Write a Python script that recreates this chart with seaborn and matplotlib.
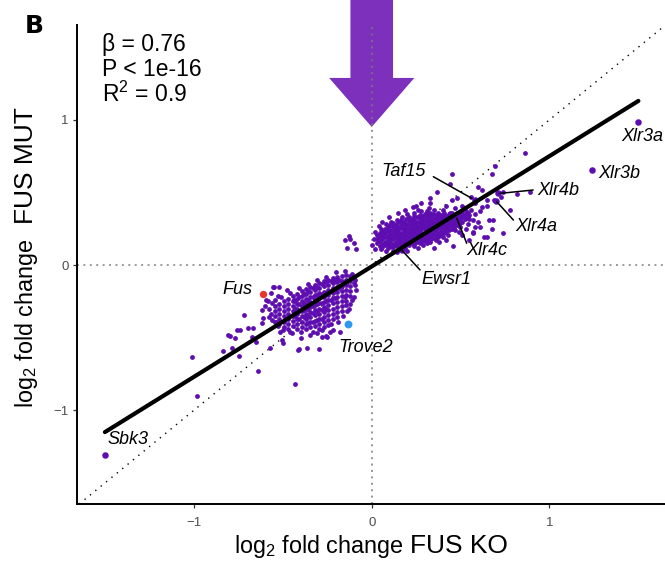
import numpy as np
import pandas as pd
import matplotlib
matplotlib.use("Agg")
import matplotlib.pyplot as plt
import seaborn as sns
from matplotlib.patches import Polygon

# ---------------- data (log2 fold change: FUS KO vs FUS MUT) ----------------
# dense upregulated cluster, columns x -> list of y
pos_core_cols = {
    0.030: [0.150, 0.178, 0.207],
    0.045: [0.132, 0.163, 0.192, 0.221],
    0.060: [0.122, 0.148, 0.176, 0.205, 0.236],
    0.075: [0.135, 0.162, 0.190, 0.219, 0.248],
    0.090: [0.118, 0.146, 0.174, 0.203, 0.232, 0.262],
    0.105: [0.130, 0.158, 0.187, 0.215, 0.244, 0.273],
    0.120: [0.121, 0.148, 0.176, 0.205, 0.233, 0.262, 0.290],
    0.135: [0.135, 0.162, 0.190, 0.219, 0.247, 0.276],
    0.150: [0.127, 0.153, 0.181, 0.209, 0.237, 0.265, 0.294],
    0.165: [0.140, 0.168, 0.196, 0.224, 0.252, 0.281, 0.309],
    0.180: [0.132, 0.158, 0.186, 0.214, 0.242, 0.270, 0.298],
    0.195: [0.146, 0.174, 0.202, 0.230, 0.258, 0.286, 0.315],
    0.210: [0.139, 0.165, 0.193, 0.221, 0.249, 0.277, 0.305, 0.330],
    0.225: [0.152, 0.180, 0.208, 0.236, 0.264, 0.292, 0.320],
    0.240: [0.146, 0.172, 0.200, 0.228, 0.256, 0.284, 0.312, 0.338],
    0.255: [0.160, 0.188, 0.216, 0.244, 0.272, 0.300, 0.328],
    0.270: [0.154, 0.180, 0.208, 0.236, 0.264, 0.292, 0.320, 0.346],
    0.285: [0.168, 0.196, 0.224, 0.252, 0.280, 0.308, 0.336],
    0.300: [0.163, 0.189, 0.217, 0.245, 0.273, 0.301, 0.329, 0.354],
    0.315: [0.177, 0.205, 0.233, 0.261, 0.289, 0.317, 0.345],
    0.330: [0.172, 0.198, 0.226, 0.254, 0.282, 0.310, 0.338, 0.362],
    0.345: [0.186, 0.214, 0.242, 0.270, 0.298, 0.326, 0.352],
    0.360: [0.182, 0.208, 0.236, 0.264, 0.292, 0.320, 0.346],
    0.375: [0.196, 0.224, 0.252, 0.280, 0.308, 0.336, 0.362],
    0.390: [0.205, 0.232, 0.260, 0.288, 0.316, 0.344],
    0.405: [0.218, 0.246, 0.274, 0.302, 0.330, 0.357],
    0.420: [0.228, 0.256, 0.284, 0.312, 0.340],
    0.435: [0.240, 0.268, 0.296, 0.324, 0.352],
    0.450: [0.250, 0.278, 0.306, 0.334, 0.362],
    0.465: [0.264, 0.292, 0.320, 0.348],
    0.480: [0.275, 0.303, 0.331, 0.359],
    0.495: [0.290, 0.318, 0.346],
    0.510: [0.300, 0.328, 0.356],
    0.525: [0.315, 0.343],
    0.540: [0.328, 0.356],
}

# dense downregulated cluster, columns x -> list of y
neg_core_cols = {
    -0.545: [-0.285, -0.320, -0.355, -0.390],
    -0.520: [-0.268, -0.303, -0.338, -0.373, -0.408],
    -0.495: [-0.250, -0.285, -0.320, -0.355, -0.390, -0.425],
    -0.470: [-0.232, -0.267, -0.302, -0.337, -0.372, -0.407, -0.440],
    -0.445: [-0.214, -0.249, -0.284, -0.319, -0.354, -0.389, -0.424],
    -0.420: [-0.197, -0.232, -0.267, -0.302, -0.337, -0.372, -0.407, -0.442],
    -0.395: [-0.180, -0.215, -0.250, -0.285, -0.320, -0.355, -0.390, -0.425],
    -0.370: [-0.163, -0.198, -0.233, -0.268, -0.303, -0.338, -0.373, -0.408, -0.443],
    -0.345: [-0.150, -0.185, -0.220, -0.255, -0.290, -0.325, -0.360, -0.395, -0.430],
    -0.320: [-0.138, -0.173, -0.208, -0.243, -0.278, -0.313, -0.348, -0.383, -0.418],
    -0.295: [-0.125, -0.160, -0.195, -0.230, -0.265, -0.300, -0.335, -0.370, -0.405, -0.438],
    -0.270: [-0.113, -0.148, -0.183, -0.218, -0.253, -0.288, -0.323, -0.358, -0.393, -0.425],
    -0.245: [-0.100, -0.135, -0.170, -0.205, -0.240, -0.275, -0.310, -0.345, -0.380, -0.412],
    -0.220: [-0.090, -0.125, -0.160, -0.195, -0.230, -0.265, -0.300, -0.335, -0.370],
    -0.195: [-0.082, -0.117, -0.152, -0.187, -0.222, -0.257, -0.292, -0.327, -0.360],
    -0.170: [-0.075, -0.110, -0.145, -0.180, -0.215, -0.250, -0.285, -0.318],
    -0.145: [-0.070, -0.105, -0.140, -0.175, -0.210, -0.245, -0.278],
    -0.120: [-0.075, -0.110, -0.145, -0.180, -0.215],
    -0.100: [-0.090, -0.125],
}

# extra points filling the densest middle of the downregulated cluster
neg_fill = [
    (-0.432, -0.25), (-0.432, -0.30), (-0.432, -0.35), (-0.407, -0.22), (-0.407, -0.27),
    (-0.407, -0.32), (-0.407, -0.37), (-0.382, -0.20), (-0.382, -0.26), (-0.382, -0.31),
    (-0.382, -0.36), (-0.357, -0.18), (-0.357, -0.24), (-0.357, -0.30), (-0.357, -0.35),
    (-0.357, -0.40), (-0.332, -0.16), (-0.332, -0.22), (-0.332, -0.28), (-0.332, -0.33),
    (-0.332, -0.39), (-0.307, -0.15), (-0.307, -0.21), (-0.307, -0.27), (-0.307, -0.32),
    (-0.307, -0.38), (-0.282, -0.13), (-0.282, -0.20), (-0.282, -0.26), (-0.282, -0.31),
    (-0.282, -0.37), (-0.257, -0.12), (-0.257, -0.19), (-0.257, -0.25), (-0.257, -0.30),
    (-0.232, -0.11), (-0.232, -0.18), (-0.232, -0.24), (-0.207, -0.10), (-0.207, -0.17),
    (-0.207, -0.23), (-0.182, -0.10), (-0.182, -0.16),
]

pos_edge = [
    (0.01, 0.18), (0.02, 0.23), (0.05, 0.25), (0.08, 0.28), (0.11, 0.30), (0.14, 0.31),
    (0.17, 0.33), (0.20, 0.35), (0.24, 0.36), (0.28, 0.37), (0.31, 0.37), (0.35, 0.38),
    (0.40, 0.38), (0.47, 0.39), (0.52, 0.39), (0.56, 0.38), (0.57, 0.31), (0.54, 0.28),
    (0.50, 0.26), (0.47, 0.24), (0.43, 0.21), (0.40, 0.19), (0.36, 0.17), (0.33, 0.16),
    (0.29, 0.14), (0.24, 0.13), (0.19, 0.12), (0.16, 0.11), (0.12, 0.10), (0.08, 0.10),
    (0.05, 0.11),
]

neg_edge = [
    (-0.58, -0.30), (-0.57, -0.34), (-0.56, -0.38), (-0.53, -0.42), (-0.50, -0.45),
    (-0.46, -0.46), (-0.40, -0.46), (-0.33, -0.46), (-0.28, -0.45), (-0.23, -0.41),
    (-0.19, -0.39), (-0.16, -0.35), (-0.13, -0.30), (-0.10, -0.22), (-0.09, -0.17),
    (-0.11, -0.06), (-0.15, -0.04), (-0.20, -0.05), (-0.26, -0.08), (-0.31, -0.10),
    (-0.36, -0.13), (-0.41, -0.16), (-0.46, -0.19), (-0.51, -0.22), (-0.56, -0.26),
]

pos_scatter = [
    (0.25, 0.41), (0.32, 0.39), (0.42, 0.41), (0.37, 0.50), (0.33, 0.46), (0.23, 0.40),
    (0.15, 0.36), (0.10, 0.33), (0.19, 0.38), (0.28, 0.43), (0.45, 0.45), (0.48, 0.46),
    (0.51, 0.41), (0.53, 0.37), (0.55, 0.345), (0.45, 0.63), (0.44, 0.56), (0.68, 0.63),
    (0.695, 0.68), (0.864, 0.77), (0.60, 0.54), (0.62, 0.52), (0.74, 0.50), (0.82, 0.49),
    (0.89, 0.50), (0.78, 0.38), (0.685, 0.31), (0.676, 0.246), (0.63, 0.195), (0.58, 0.26),
    (0.65, 0.41), (0.73, 0.47), (0.69, 0.45), (0.65, 0.45), (0.62, 0.40), (0.61, 0.37),
    (0.58, 0.35), (0.55, 0.32), (0.57, 0.23), (0.51, 0.21), (0.46, 0.13), (0.42, 0.17),
    (0.31, 0.15), (0.38, 0.16), (0.35, 0.12), (0.26, 0.12), (0.20, 0.10), (0.14, 0.09),
    (0.02, 0.11), (0.00, 0.14), (0.04, 0.27), (0.06, 0.30), (0.58, 0.43), (0.56, 0.47),
    (0.60, 0.30), (0.53, 0.25), (0.49, 0.23), (0.66, 0.31), (0.74, 0.22), (0.61, 0.26),
    (0.65, 0.195), (0.57, 0.22), (0.55, 0.17), (0.44, 0.36), (0.38, 0.34), (0.33, 0.43),
    (0.26, 0.38), (-0.15, 0.17), (-0.12, 0.18), (-0.10, 0.15), (-0.14, 0.12), (-0.09, 0.11),
    (-0.13, 0.20),
]

neg_scatter = [
    (-1.014, -0.637), (-0.986, -0.90), (-0.84, -0.59), (-0.80, -0.49), (-0.785, -0.57),
    (-0.746, -0.625), (-0.757, -0.448), (-0.718, -0.345), (-0.695, -0.437), (-0.667, -0.437),
    (-0.652, -0.529), (-0.642, -0.731), (-0.62, -0.31), (-0.61, -0.368), (-0.595, -0.241),
    (-0.58, -0.356), (-0.573, -0.575), (-0.539, -0.391), (-0.526, -0.214), (-0.52, -0.154),
    (-0.517, -0.46), (-0.507, -0.517), (-0.432, -0.82), (-0.413, -0.586), (-0.366, -0.575),
    (-0.295, -0.582), (-0.282, -0.494), (-0.254, -0.494), (-0.216, -0.448), (-0.55, -0.154),
    (-0.586, -0.246), (-0.81, -0.483), (-0.77, -0.506), (-0.742, -0.448), (-0.676, -0.494),
    (-0.44, -0.24), (-0.50, -0.54), (-0.18, -0.46), (-0.235, -0.46), (-0.26, -0.49),
    (-0.15, -0.22), (-0.094, -0.10), (-0.094, -0.14), (-0.11, -0.24), (-0.554, -0.15),
    (-0.545, -0.24), (-0.41, -0.58), (-0.62, -0.40), (-0.60, -0.28), (-0.57, -0.19),
    (-0.48, -0.17), (-0.45, -0.47), (-0.40, -0.50), (-0.35, -0.48), (-0.31, -0.47),
    (-0.14, -0.32), (-0.12, -0.27),
]

# labelled genes
gene_names = ["Sbk3", "Xlr3a", "Xlr3b", "Xlr4b", "Xlr4a", "Xlr4c", "Taf15", "Ewsr1"]
gene_x = [-1.503, 1.502, 1.243, 0.713, 0.700, 0.479, 0.580, 0.169]
gene_y = [-1.310, 0.988, 0.655, 0.494, 0.440, 0.322, 0.450, 0.103]
fus_xy = (-0.61, -0.20)
trove2_xy = (-0.135, -0.41)

# text label positions (data coords) and alignment
label_text = ["Fus", "Trove2", "Sbk3", "Xlr3a", "Xlr3b", "Xlr4b", "Xlr4a", "Xlr4c", "Ewsr1", "Taf15"]
label_tx = [-0.670, -0.190, -1.486, 1.408, 1.277, 0.935, 0.807, 0.531, 0.282, 0.306]
label_ty = [-0.166, -0.572, -1.202, 0.885, 0.632, 0.517, 0.264, 0.103, -0.103, 0.643]
label_ha = ["right", "left", "left", "left", "left", "left", "left", "left", "left", "right"]

# leader segments
leader_x0 = [0.563, 0.723, 0.704, 0.479, 0.169]
leader_y0 = [0.460, 0.494, 0.437, 0.322, 0.103]
leader_x1 = [0.347, 0.909, 0.798, 0.535, 0.272]
leader_y1 = [0.609, 0.517, 0.310, 0.150, -0.034]

# regression fit
fit_beta = 0.76
fit_intercept = -0.01
stats_lines = [r"β = 0.76", r"P < 1e-16", r"R$^{\mathregular{2}}$ = 0.9"]

# arrow (data coords)
arrow_x, arrow_tip, arrow_head_y, arrow_top = 0.0, 0.952, 1.29, 1.83
arrow_head_half, arrow_shaft_half = 0.24, 0.12

xlim = (-1.658, 1.652)
ylim = (-1.648, 1.655)
xticks = [-1, 0, 1]
xticklabels = ["\u22121", "0", "1"]
yticks = [-1, 0, 1]
yticklabels = ["\u22121", "0", "1"]

PURPLE = "#5E0DB0"
ARROW = "#7D30BC"

# ---------------- build frames ----------------
core_pts = [(x, y) for x, ys in pos_core_cols.items() for y in ys] + \
           [(x, y) for x, ys in neg_core_cols.items() for y in ys]
bg = pd.DataFrame(core_pts + neg_fill + pos_edge + neg_edge + pos_scatter + neg_scatter,
                  columns=["x", "y"])
genes = pd.DataFrame({"gene": gene_names, "x": gene_x, "y": gene_y})

# ---------------- style ----------------
sns.set_theme(style="white")
plt.rcParams["font.family"] = ["Liberation Sans", "DejaVu Sans"]
plt.rcParams["mathtext.fontset"] = "custom"
plt.rcParams["mathtext.rm"] = "Liberation Sans"
plt.rcParams["mathtext.it"] = "Liberation Sans:italic"

W, H = 665, 561
fig = plt.figure(figsize=(W / 100, H / 100), dpi=100)
fig.patch.set_facecolor("white")
ax = fig.add_axes([77.4 / W, 57 / H, 1 - 77.4 / W, 479 / H])
ax.set_facecolor("white")

def fpx(x, y):
    return x / W, 1 - y / H

# arrow
arrow_poly = Polygon(
    [(arrow_x - arrow_shaft_half, arrow_top), (arrow_x - arrow_shaft_half, arrow_head_y),
     (arrow_x - arrow_head_half, arrow_head_y), (arrow_x, arrow_tip),
     (arrow_x + arrow_head_half, arrow_head_y), (arrow_x + arrow_shaft_half, arrow_head_y),
     (arrow_x + arrow_shaft_half, arrow_top)],
    closed=True, facecolor=ARROW, edgecolor="none", zorder=1, clip_on=False)
ax.add_patch(arrow_poly)

# reference lines
ax.axhline(0, color="#9A9A9A", lw=1.4, ls=(0, (1, 2.3)), zorder=1.5)
ax.axvline(0, color="#7A7A7A", lw=1.4, ls=(0, (1, 2.3)), zorder=1.5, alpha=0.8)
ax.axline((0, 0), (1, 1), color="black", lw=1.0, ls=(0, (1, 4)), zorder=1.5)

# points
sns.scatterplot(data=bg, x="x", y="y", s=12, color=PURPLE, linewidth=0, ax=ax, zorder=3, legend=False)
sns.scatterplot(data=genes, x="x", y="y", s=22, color=PURPLE, linewidth=0, ax=ax, zorder=3.2, legend=False)
sns.scatterplot(x=[fus_xy[0]], y=[fus_xy[1]], s=28, color="#E8362B", linewidth=0, ax=ax, zorder=3.3, legend=False)
sns.scatterplot(x=[trove2_xy[0]], y=[trove2_xy[1]], s=32, color="#2E97F0", linewidth=0, ax=ax, zorder=3.3, legend=False)

# regression line
fx = np.array([min(bg["x"].min(), min(gene_x)), max(bg["x"].max(), max(gene_x))])
sns.lineplot(x=fx, y=fit_beta * fx + fit_intercept, color="black", lw=3.0, ax=ax, zorder=4)

# leaders and labels
for x0, y0, x1, y1 in zip(leader_x0, leader_y0, leader_x1, leader_y1):
    ax.plot([x0, x1], [y0, y1], color="black", lw=1.1, zorder=4.5)
for t, tx, ty, ha in zip(label_text, label_tx, label_ty, label_ha):
    ax.text(tx, ty, t, ha=ha, va="center", fontsize=13, style="italic", color="black",
            zorder=5, clip_on=False)

ax.set_xlim(*xlim)
ax.set_ylim(*ylim)
ax.set_xticks(xticks)
ax.set_xticklabels(xticklabels)
ax.set_yticks(yticks)
ax.set_yticklabels(yticklabels)
ax.set_xlabel("")
ax.set_ylabel("")
ax.tick_params(axis="both", which="major", direction="out", length=2.6, width=0.9,
               color="#333333", labelcolor="#4D4D4D", labelsize=9.5, bottom=True, left=True)
ax.tick_params(axis="x", pad=7)
ax.tick_params(axis="y", pad=3.5)
ax.grid(False)
for side in ["top", "right"]:
    ax.spines[side].set_visible(False)
for side in ["left", "bottom"]:
    ax.spines[side].set_color("black")
    ax.spines[side].set_linewidth(1.4)

# stats text
for i, s in enumerate(stats_lines):
    fig.text(*fpx(101.5, 51 + 25.3 * i), s, ha="left", va="baseline", fontsize=16.5, color="black")

# panel letter
fig.text(*fpx(25, 33.3), "B", ha="left", va="baseline", fontsize=18, fontweight="bold",
         family="DejaVu Sans", color="black")

# x label
fig.text(*fpx(404, 553), r"log$_{\mathregular{2}}$ fold change", ha="right", va="baseline",
         fontsize=16.8, color="black")
fig.text(*fpx(410, 553), "FUS KO", ha="left", va="baseline", fontsize=19, color="black")

# y label
fig.text(*fpx(33, 238), r"log$_{\mathregular{2}}$ fold change", ha="right", va="baseline",
         rotation=90, rotation_mode="anchor", fontsize=16.8, color="black")
fig.text(*fpx(33, 224), "FUS MUT", ha="left", va="baseline",
         rotation=90, rotation_mode="anchor", fontsize=19, color="black")

fig.savefig("out.png", dpi=100, facecolor="white")
